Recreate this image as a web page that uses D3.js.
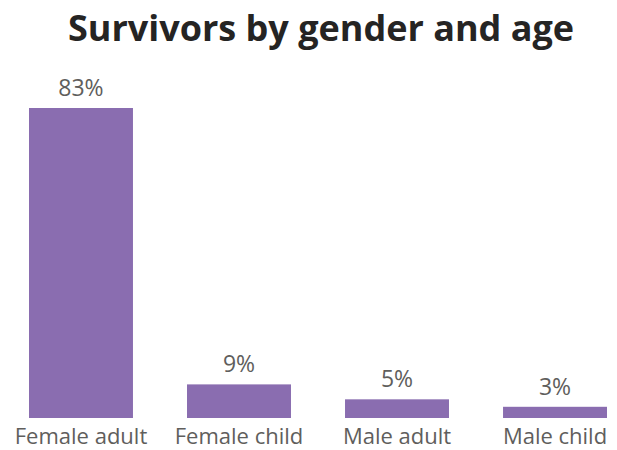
<!DOCTYPE html>
<html>
<head>
<meta charset="utf-8">
<script src="https://cdn.jsdelivr.net/npm/d3@7"></script>
<style>
  html, body { margin: 0; padding: 0; background: #ffffff; }
  svg { display: block; }
</style>
</head>
<body>
<svg id="chart" width="617" height="450"></svg>
<script>
// Share of survivors in each gender / age group (percent)
const categories = ["Female adult", "Female child", "Male adult", "Male child"];
const survivorShare = [83, 9, 5, 3];
const valueLabels = ["83%", "9%", "5%", "3%"];
const chartTitle = "Survivors by gender and age";

const width = 617, height = 450;
const svg = d3.select("#chart");
const fontFamily = "'Open Sans', 'Noto Sans', sans-serif";

const x = d3.scaleBand()
  .domain(categories)
  .range([29, 607])
  .paddingInner(0.342)
  .paddingOuter(0);

const y = d3.scaleLinear()
  .domain([0, 83])
  .range([418, 108]);

const rows = categories.map((c, i) => ({ cat: c, value: survivorShare[i], label: valueLabels[i] }));

// title
svg.append("text")
  .attr("x", 321)
  .attr("y", 41)
  .attr("text-anchor", "middle")
  .attr("font-family", fontFamily)
  .attr("font-weight", 700)
  .attr("font-size", 36)
  .attr("fill", "#252423")
  .text(chartTitle);

// bars
svg.append("g")
  .selectAll("rect")
  .data(rows)
  .join("rect")
  .attr("x", d => x(d.cat))
  .attr("y", d => y(d.value))
  .attr("width", x.bandwidth())
  .attr("height", d => y(0) - y(d.value))
  .attr("fill", "#8a6db0");

// data labels
svg.append("g")
  .selectAll("text")
  .data(rows)
  .join("text")
  .attr("x", d => x(d.cat) + x.bandwidth() / 2)
  .attr("y", d => y(d.value) - 12)
  .attr("text-anchor", "middle")
  .attr("font-family", fontFamily)
  .attr("font-size", 23)
  .attr("fill", "#605e5c")
  .text(d => d.label);

// category axis
const xAxis = svg.append("g")
  .attr("transform", "translate(0,418)")
  .call(d3.axisBottom(x).tickSize(0).tickPadding(0));
xAxis.select(".domain").remove();
xAxis.selectAll("text")
  .attr("dy", null)
  .attr("y", 26)
  .attr("font-family", fontFamily)
  .attr("font-size", 22)
  .attr("fill", "#605e5c");
</script>
</body>
</html>
